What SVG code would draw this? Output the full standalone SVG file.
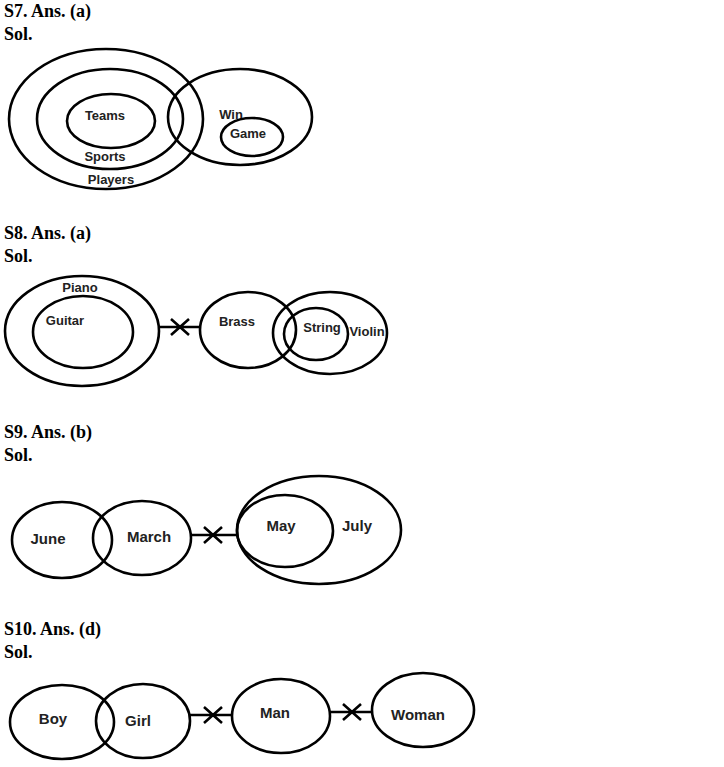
<svg xmlns="http://www.w3.org/2000/svg" width="724" height="767" viewBox="0 0 724 767">
<style>
.h{font-family:"Liberation Serif",serif;font-weight:bold;font-size:18px;fill:#000}
.e{fill:none;stroke:#000;stroke-width:2.6}
.l{stroke:#000;stroke-width:2.6;fill:none}
.t{font-family:"Liberation Sans",Arial,sans-serif;font-weight:bold;font-size:13px;fill:#222;text-anchor:middle}
.b{font-size:15px}
</style>
<rect width="724" height="767" fill="#fff"/>
<g id="headings">
<text class="h" x="4" y="17">S7. Ans. (a)</text>
<text class="h" x="4" y="40">Sol.</text>
<text class="h" x="4" y="239">S8. Ans. (a)</text>
<text class="h" x="4" y="262">Sol.</text>
<text class="h" x="4" y="438">S9. Ans. (b)</text>
<text class="h" x="4" y="461">Sol.</text>
<text class="h" x="4" y="635">S10. Ans. (d)</text>
<text class="h" x="4" y="658">Sol.</text>
</g>
<g id="players"><ellipse class="e" cx="106" cy="119" rx="97" ry="70"/><text class="t" x="111" y="184">Players</text></g>
<g id="sports"><ellipse class="e" cx="110" cy="119" rx="73" ry="50"/><text class="t" x="105" y="161">Sports</text></g>
<g id="teams"><ellipse class="e" cx="111" cy="121" rx="44" ry="27"/><text class="t" x="105" y="120">Teams</text></g>
<g id="win"><ellipse class="e" cx="240" cy="117" rx="72" ry="48"/><text class="t" x="231" y="119">Win</text></g>
<g id="game"><ellipse class="e" cx="252" cy="137" rx="31" ry="19"/><text class="t" x="248" y="138">Game</text></g>
<g id="piano"><ellipse class="e" cx="82" cy="331" rx="77" ry="55"/><text class="t" x="80" y="292">Piano</text></g>
<g id="guitar"><ellipse class="e" cx="83" cy="332" rx="50" ry="36"/><text class="t" x="65" y="325">Guitar</text></g>
<g id="brass"><ellipse class="e" cx="248" cy="330" rx="48" ry="38"/><text class="t" x="237" y="326">Brass</text></g>
<g id="violin"><ellipse class="e" cx="330" cy="333" rx="57" ry="41"/><text class="t" x="367" y="336">Violin</text></g>
<g id="string"><ellipse class="e" cx="316" cy="334" rx="32" ry="26"/><text class="t" x="322" y="332">String</text></g>
<g id="june"><ellipse class="e" cx="62" cy="540" rx="50" ry="38"/><text class="t b" x="48" y="544">June</text></g>
<g id="march"><ellipse class="e" cx="142" cy="538" rx="49" ry="37"/><text class="t b" x="149" y="542">March</text></g>
<g id="july"><ellipse class="e" cx="319" cy="530" rx="82" ry="54"/><text class="t b" x="357" y="531">July</text></g>
<g id="may"><ellipse class="e" cx="285" cy="531" rx="48" ry="36"/><text class="t b" x="281" y="531">May</text></g>
<g id="boy"><ellipse class="e" cx="62" cy="722" rx="52" ry="37"/><text class="t b" x="53" y="724">Boy</text></g>
<g id="girl"><ellipse class="e" cx="143" cy="721" rx="47" ry="37"/><text class="t b" x="138" y="726">Girl</text></g>
<g id="man"><ellipse class="e" cx="281" cy="716" rx="49" ry="37"/><text class="t b" x="275" y="718">Man</text></g>
<g id="woman"><ellipse class="e" cx="423" cy="710" rx="51" ry="37"/><text class="t b" x="418" y="720">Woman</text></g>
<g id="connectors">
<path class="l" d="M158 327H200M171 319L189 335M171 335L189 319"/>
<path class="l" d="M191 535H237M204 527L222 543M204 543L222 527"/>
<path class="l" d="M190 715H233M204 707L222 723M204 723L222 707"/>
<path class="l" d="M330 712H372M343 704L361 720M343 720L361 704"/>
</g>
</svg>
